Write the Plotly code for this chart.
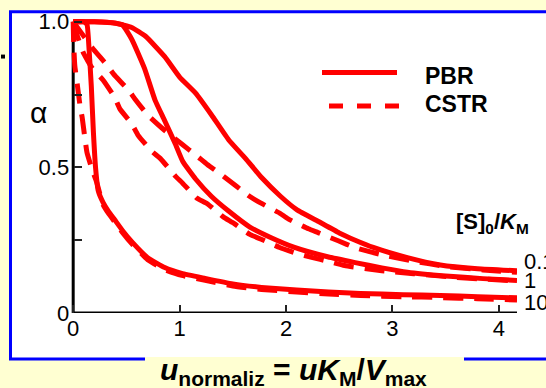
import plotly.graph_objects as go

# ---------------- data ----------------
pbr_01_x = [0, 0.2, 0.4, 0.55, 0.68, 0.86, 1.0, 1.15, 1.3, 1.46, 1.62, 1.77, 1.95, 2.1, 2.3, 2.5, 2.65, 2.82, 3.14, 3.45, 3.8, 4.17]
pbr_01_y = [1.0, 1.0, 0.995, 0.98, 0.95, 0.88, 0.81, 0.755, 0.68, 0.595, 0.53, 0.465, 0.40, 0.355, 0.315, 0.275, 0.25, 0.225, 0.19, 0.165, 0.152, 0.145]

pbr_1_x = [0, 0.2, 0.35, 0.46, 0.55, 0.67, 0.77, 0.86, 0.96, 1.03, 1.15, 1.3, 1.46, 1.66, 1.85, 2.08, 2.39, 2.65, 2.9, 3.14, 3.5, 3.85, 4.17]
pbr_1_y = [1.0, 1.0, 0.997, 0.99, 0.94, 0.84, 0.73, 0.66, 0.58, 0.52, 0.46, 0.40, 0.35, 0.295, 0.26, 0.225, 0.193, 0.173, 0.155, 0.14, 0.127, 0.118, 0.112]

pbr_10_x = [0, 0.1, 0.13, 0.15, 0.17, 0.19, 0.21, 0.235, 0.28, 0.33, 0.39, 0.47, 0.55, 0.7, 0.86, 1.02, 1.24, 1.5, 1.77, 2.1, 2.4, 2.7, 3.1, 3.45, 3.8, 4.17]
pbr_10_y = [1.0, 1.0, 0.99, 0.9, 0.78, 0.62, 0.5, 0.42, 0.38, 0.35, 0.32, 0.28, 0.245, 0.19, 0.156, 0.136, 0.119, 0.1, 0.088, 0.079, 0.072, 0.067, 0.063, 0.06, 0.056, 0.052]

cstr_01_x = [0, 0.08, 0.18, 0.32, 0.38, 0.52, 0.58, 0.7, 0.85, 1.02, 1.16, 1.26, 1.41, 1.66, 1.76, 1.94, 2.02, 2.21, 2.3, 2.49, 2.65, 2.9, 3.2, 3.5, 3.85, 4.17]
cstr_01_y = [1.0, 0.96, 0.91, 0.85, 0.82, 0.765, 0.735, 0.68, 0.63, 0.58, 0.54, 0.51, 0.47, 0.40, 0.378, 0.343, 0.323, 0.289, 0.276, 0.248, 0.224, 0.2, 0.178, 0.16, 0.148, 0.14]

cstr_1_x = [0, 0.04, 0.1, 0.18, 0.28, 0.39, 0.44, 0.55, 0.61, 0.74, 0.82, 0.96, 1.03, 1.16, 1.26, 1.41, 1.5, 1.66, 1.8, 1.94, 2.1, 2.25, 2.39, 2.55, 2.9, 3.2, 3.6, 4.17]
cstr_1_y = [1.0, 0.95, 0.89, 0.84, 0.80, 0.74, 0.70, 0.65, 0.61, 0.555, 0.53, 0.47, 0.445, 0.395, 0.375, 0.33, 0.31, 0.27, 0.248, 0.225, 0.205, 0.19, 0.178, 0.163, 0.145, 0.135, 0.122, 0.11]

cstr_10_x = [0, 0.005, 0.015, 0.04, 0.065, 0.085, 0.11, 0.13, 0.18, 0.22, 0.28, 0.33, 0.39, 0.47, 0.55, 0.7, 0.86, 1.02, 1.24, 1.5, 1.77, 2.1, 2.4, 2.7, 3.1, 3.45, 3.8, 4.17]
cstr_10_y = [1.0, 0.92, 0.85, 0.78, 0.71, 0.67, 0.6, 0.55, 0.49, 0.45, 0.373, 0.343, 0.313, 0.273, 0.238, 0.183, 0.149, 0.129, 0.112, 0.093, 0.081, 0.072, 0.065, 0.06, 0.056, 0.053, 0.049, 0.045]

x_tick_vals = [0, 1, 2, 3, 4]
x_tick_text = ["0", "1", "2", "3", "4"]
y_tick_vals = [0, 0.5, 1.0]
y_tick_text = ["0", "0.5", "1.0"]
y_minor_step = 0.25
curve_labels = ["0.1", "1", "10"]
legend_names = ["PBR", "CSTR"]

# ---------------- layout geometry ----------------
FW, FH = 546, 388
ML, MT, PW, PH = 70, 10, 447, 303
MR = FW - ML - PW
MB = FH - MT - PH
XR = [-0.03, 4.17]
YR = [0, 1.03]

def xp(px):
    return (px - ML) / PW

def yp(py):
    return 1 - (py - MT) / PH

YELLOW = "#FFFFD2"
RED = "#FF0000"
FONT = "Arial, Liberation Sans, sans-serif"

fig = go.Figure()

series = [
    (pbr_01_x, pbr_01_y, "solid", "PBR 0.1"),
    (pbr_1_x, pbr_1_y, "solid", "PBR 1"),
    (pbr_10_x, pbr_10_y, "solid", "PBR 10"),
    (cstr_01_x, cstr_01_y, "20px,11px", "CSTR 0.1"),
    (cstr_1_x, cstr_1_y, "20px,11px", "CSTR 1"),
    (cstr_10_x, cstr_10_y, "20px,11px", "CSTR 10"),
]
for xs, ys, dash, nm in series:
    fig.add_trace(go.Scatter(x=xs, y=ys, mode="lines", name=nm, showlegend=False,
                             line=dict(color=RED, width=5, dash=dash, shape="spline", smoothing=0.4)))

shapes = [
    # white panel with blue border
    dict(type="rect", xref="paper", yref="paper", x0=xp(10.5), x1=xp(600), y0=yp(8.7), y1=yp(359.5),
         fillcolor="white", line=dict(color="#0000FF", width=3), layer="below"),
    # yellow patch behind axis title
    dict(type="rect", xref="paper", yref="paper", x0=xp(145), x1=xp(464), y0=yp(357.5), y1=yp(395),
         fillcolor=YELLOW, line=dict(width=0), layer="below"),
    # small black dot at left
    dict(type="rect", xref="paper", yref="paper", x0=xp(1), x1=xp(5), y0=yp(56), y1=yp(52),
         fillcolor="black", line=dict(width=0), layer="below"),
    # axis lines
    dict(type="line", xref="x", yref="y", x0=0, x1=XR[1], y0=0, y1=0,
         line=dict(color="black", width=3), layer="below"),
    dict(type="line", xref="x", yref="y", x0=0, x1=0, y0=0, y1=1.0,
         line=dict(color="black", width=3), layer="below"),
    # legend samples
    dict(type="line", xref="paper", yref="paper", x0=xp(322), x1=xp(397), y0=yp(70), y1=yp(70),
         line=dict(color=RED, width=5)),
    dict(type="line", xref="paper", yref="paper", x0=xp(329), x1=xp(401), y0=yp(104), y1=yp(104),
         line=dict(color=RED, width=5, dash="14px,14px")),
]

annotations = [
    dict(text="α", x=xp(38), y=yp(111), font=dict(size=30, family=FONT, color="black")),
    dict(text="<b>" + legend_names[0] + "</b>", x=xp(423), y=yp(74), xanchor="left",
         font=dict(size=23, family=FONT, color="black")),
    dict(text="<b>" + legend_names[1] + "</b>", x=xp(423), y=yp(102), xanchor="left",
         font=dict(size=23, family=FONT, color="black")),
    dict(text="<b>[S]<sub>0</sub>/<i>K</i><sub>M</sub></b>", x=xp(454), y=yp(222), xanchor="left",
         font=dict(size=22, family=FONT, color="black")),
    dict(text=curve_labels[0], x=xp(522), y=yp(261), xanchor="left",
         font=dict(size=22, family=FONT, color="black")),
    dict(text=curve_labels[1], x=xp(522), y=yp(280), xanchor="left",
         font=dict(size=22, family=FONT, color="black")),
    dict(text=curve_labels[2], x=xp(522), y=yp(302), xanchor="left",
         font=dict(size=22, family=FONT, color="black")),
    dict(text="<b><i>u</i><sub>normaliz</sub> = <i>uK</i><sub>M</sub>/<i>V</i><sub>max</sub></b>",
         x=xp(293), y=yp(372), font=dict(size=30, family=FONT, color="black")),
]
for a in annotations:
    a.setdefault("xref", "paper")
    a.setdefault("yref", "paper")
    a.setdefault("showarrow", False)
    a.setdefault("xanchor", "center")
    a.setdefault("yanchor", "middle")

fig.update_layout(
    width=FW, height=FH,
    margin=dict(l=ML, r=MR, t=MT, b=MB, pad=0),
    paper_bgcolor=YELLOW,
    plot_bgcolor="rgba(0,0,0,0)",
    shapes=shapes,
    annotations=annotations,
    showlegend=False,
    xaxis=dict(range=XR, showgrid=False, zeroline=False, showline=False,
               tickmode="array", tickvals=x_tick_vals, ticktext=x_tick_text,
               ticks="inside", ticklen=8, tickwidth=2, tickcolor="#222",
               tickfont=dict(size=22, family=FONT, color="black")),
    yaxis=dict(range=YR, showgrid=False, zeroline=False, showline=False,
               anchor="free", position=(73.2 - ML) / PW,
               tickmode="array", tickvals=y_tick_vals, ticktext=y_tick_text,
               ticks="inside", ticklen=8, tickwidth=2, tickcolor="#222",
               ticklabelstandoff=4,
               minor=dict(dtick=y_minor_step, tick0=0, ticks="inside", ticklen=8,
                          tickwidth=2, tickcolor="#222", showgrid=False),
               tickfont=dict(size=22, family=FONT, color="black")),
)

fig.write_html("out.html",
               config={"displayModeBar": False},
               post_script="document.body.style.margin='0';document.body.style.background='%s';" % YELLOW)
